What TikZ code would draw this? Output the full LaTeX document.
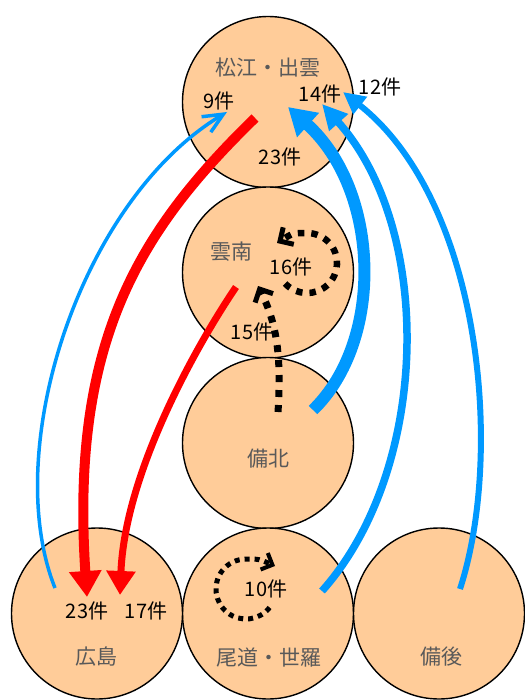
\documentclass[tikz,border=0pt]{standalone}
\usepackage{fontspec}
\newfontfamily\jp{Noto Sans CJK JP}
\usetikzlibrary{arrows.meta}
\definecolor{peach}{RGB}{255,204,153}
\definecolor{skyb}{RGB}{0,153,255}
\definecolor{lblgray}{RGB}{89,89,89}
\begin{document}
\begin{tikzpicture}[x=1pt,y=-1pt,
  region/.style={circle, draw=black, line width=1.4pt, fill=peach, minimum size=171pt, inner sep=0pt},
  rlabel/.style={font=\jp\fontsize{21}{21}\selectfont, text=lblgray, inner sep=0pt},
  cnt/.style={font=\jp\fontsize{20}{20}\selectfont, text=black, inner sep=0pt},
  redthick/.style={draw=red, line width=10pt, -{Triangle[length=26pt,width=31pt]}},
  redthin/.style={draw=red, line width=7pt, -{Triangle[length=24pt,width=28pt]}},
  bluethin/.style={draw=skyb, line width=3.5pt, -{Straight Barb[length=20pt,width=18pt]}},
  bluethick/.style={draw=skyb, line width=12pt, -{Triangle[length=27pt,width=31pt]}},
  bluemid/.style={draw=skyb, line width=7.5pt, -{Triangle[length=25pt,width=24pt]}},
  bluesmall/.style={draw=skyb, line width=6pt, -{Triangle[length=22pt,width=21pt]}},
  dotbig/.style={draw=black, line width=7pt, dash pattern=on 7pt off 8pt, -{Straight Barb[length=10pt,width=20pt,line width=5pt]}},
  dotmid/.style={draw=black, line width=6.5pt, dash pattern=on 6.5pt off 7pt, -{Straight Barb[length=10pt,width=20pt,line width=5pt]}},
  dotsmall/.style={draw=black, line width=5pt, dash pattern=on 5pt off 5pt, -{Straight Barb[length=9pt,width=18pt,line width=4pt]}}
]
\useasboundingbox (0,0) rectangle (524,700);

% regions
\node[region] (matsue) at (268,102) {};
\node[region] (unnan) at (268,272.5) {};
\node[region] (bihoku) at (268,443) {};
\node[region] (onomichi) at (268,613.5) {};
\node[region] (hiroshima) at (97,613.5) {};
\node[region] (bingo) at (439,613.5) {};

% connector end points
\coordinate (rAs) at (255,118);
\coordinate (rAe) at (87,597);
\coordinate (rBs) at (236,287);
\coordinate (rBe) at (120,595);
\coordinate (b9s) at (55,588);
\coordinate (b9e) at (227,112);
\coordinate (bTs) at (313,410);
\coordinate (bTe) at (288,107);
\coordinate (b14s) at (322,591);
\coordinate (b14e) at (322,104);
\coordinate (b12s) at (460,589);
\coordinate (b12e) at (343,92);
\coordinate (d15s) at (278,412);
\coordinate (d15e) at (258,286);
\coordinate (l16s) at (285.1,283.5);
\coordinate (l16e) at (277,243);
\coordinate (l10s) at (269.6,607.5);
\coordinate (l10e) at (275,566);

% red arrows
\draw[redthick] (rAs) .. controls (140,230) and (70,340) .. (rAe);
\draw[redthin] (rBs) .. controls (200,340) and (125,470) .. (rBe);

% blue arrows
\draw[bluethin] (b9s) .. controls (0,450) and (80,200) .. (b9e);
\draw[bluethick] (bTs) .. controls (385,340) and (380,190) .. (bTe);
\draw[bluemid] (b14s) .. controls (430,470) and (435,230) .. (b14e);
\draw[bluesmall] (b12s) .. controls (505,450) and (480,200) .. (b12e);

% dotted arrows
\draw[dotbig] (d15s) .. controls (282,350) and (275,320) .. (d15e);
\draw[dotmid] (l16s) arc[start angle=137, end angle=-90, radius=30] .. controls (293,233) .. (l16e);
\draw[dotsmall] (l10s) arc[start angle=38, end angle=270, radius=30] .. controls (259,559) .. (l10e);

% region labels
\node[rlabel] (tMatsue) at (268,68) {松江・出雲};
\node[rlabel] (tUnnan) at (231,252) {雲南};
\node[rlabel] (tBihoku) at (268,459) {備北};
\node[rlabel] (tHiroshima) at (96,657) {広島};
\node[rlabel] (tOnomichi) at (269,658) {尾道・世羅};
\node[rlabel] (tBingo) at (441,657) {備後};

% counts
\node[cnt] (c9) at (219,101) {9件};
\node[cnt] (c14) at (320,94) {14件};
\node[cnt] (c12) at (380,87) {12件};
\node[cnt] (c23a) at (280,157) {23件};
\node[cnt] (c16) at (291,267) {16件};
\node[cnt] (c15) at (252,332) {15件};
\node[cnt] (c10) at (266,589) {10件};
\node[cnt] (c23b) at (87,611) {23件};
\node[cnt] (c17) at (146,611) {17件};
\end{tikzpicture}
\end{document}
